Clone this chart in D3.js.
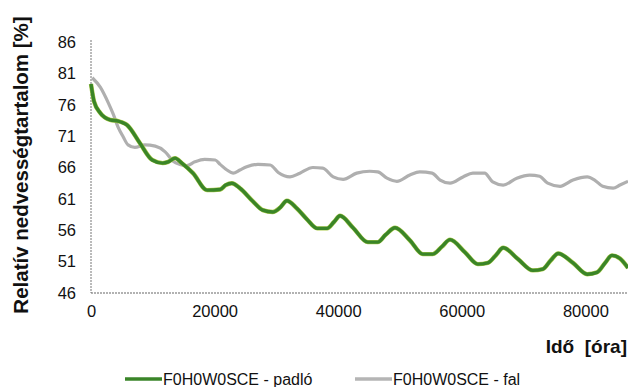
<!DOCTYPE html>
<html><head><meta charset="utf-8">
<script src="https://cdn.jsdelivr.net/npm/d3@7"></script>
<style>body{margin:0;background:#fff}svg{display:block}text{font-family:"Liberation Sans",Arial,sans-serif}</style>
</head><body>
<svg id="c" width="628" height="387"></svg>
<script>
const yTicks = [46, 51, 56, 61, 66, 71, 76, 81, 86];
const xTicks = [0, 20000, 40000, 60000, 80000];
const seriesNames = ["F0H0W0SCE - padló", "F0H0W0SCE - fal"];
const padloHours = [0,500,1500,3100,4400,5000,5800,7900,9900,11600,12500,13600,14700,16500,18800,20900,21800,22800,24100,26200,27800,29400,30600,31700,33300,34900,36600,38200,39300,40300,42400,44800,46400,47700,49200,51600,53700,55300,56800,58100,60500,62600,64200,65500,66700,69100,71500,73100,74400,75600,78000,80300,81900,83200,84300,85600,86900];
const padloValues = [79.3,76.5,74.7,73.6,73.4,73.2,72.8,69.9,67.2,66.7,66.9,67.5,66.7,65.1,62.4,62.5,63.2,63.5,62.7,60.6,59.2,58.9,59.6,60.7,59.5,57.8,56.3,56.3,57.3,58.3,56.4,54.1,54.1,55.3,56.4,54.4,52.2,52.2,53.4,54.5,52.5,50.6,50.8,52.0,53.2,51.4,49.6,49.8,51.2,52.3,50.8,49.0,49.3,50.8,52.0,51.5,50.0];
const falHours = [200,1500,2800,3600,4400,5200,6000,7100,8700,10400,12000,13300,14400,15500,16800,18400,20100,20900,22000,23000,24100,25200,27000,29000,30300,32200,33800,35900,37500,39200,40800,43000,45100,46400,47900,49500,51600,53200,55200,56500,58100,60200,61800,63700,65000,66700,68900,71000,72600,73900,75900,78000,80300,81500,82800,84500,85600,86900];
const falValues = [80.3,78.8,76.3,74.5,72.4,70.9,69.6,69.2,69.6,69.4,68.5,67.0,66.5,66.3,66.9,67.3,67.2,66.5,65.6,65.1,65.6,66.1,66.5,66.4,65.2,64.5,65.1,66.0,65.9,64.5,64.1,65.1,65.4,65.3,64.3,63.8,64.8,65.3,65.1,64.0,63.5,64.5,65.1,65.1,63.7,63.2,64.3,64.8,64.6,63.5,63.0,64.0,64.5,64.0,63.0,62.7,63.2,63.8];

const svg = d3.select("#c");
const x = d3.scaleLinear().domain([0, 86900]).range([91, 628]);
const y = d3.scaleLinear().domain([46, 86]).range([293, 42]);

// axes
const yAxis = svg.append("g").attr("transform", "translate(91,0)")
  .call(d3.axisLeft(y).tickValues(yTicks).tickSize(0).tickPadding(15).tickFormat(d3.format("d")));
yAxis.select(".domain").remove();
yAxis.selectAll("text").attr("font-size", 16.5).attr("fill", "#111");
const xAxis = svg.append("g").attr("transform", "translate(0,293)")
  .call(d3.axisBottom(x).tickValues(xTicks).tickSize(0).tickPadding(12).tickFormat(d3.format("d")));
xAxis.select(".domain").remove();
xAxis.selectAll("text").attr("font-size", 16.5).attr("fill", "#111");

svg.append("line").attr("x1", 91).attr("x2", 91).attr("y1", 40).attr("y2", 293)
  .attr("stroke", "#777").attr("stroke-width", 1).attr("stroke-dasharray", "2,1");
svg.append("line").attr("x1", 91).attr("x2", 628).attr("y1", 293).attr("y2", 293)
  .attr("stroke", "#666").attr("stroke-width", 1.2).attr("stroke-dasharray", "2,1");

const line = d3.line().x(d => x(d[0])).y(d => y(d[1])).curve(d3.curveMonotoneX);
const fal = falHours.map((h, i) => [h, falValues[i]]);
const padlo = padloHours.map((h, i) => [h, padloValues[i]]);

svg.append("path").datum(fal).attr("d", line).attr("fill", "none")
  .attr("stroke", "#afafaf").attr("stroke-width", 3.2).attr("stroke-linejoin", "round");
svg.append("path").datum(padlo).attr("d", line).attr("fill", "none")
  .attr("stroke", "#a9c94a").attr("stroke-width", 4.4).attr("stroke-linejoin", "round");
svg.append("path").datum(padlo).attr("d", line).attr("fill", "none")
  .attr("stroke", "#3a8528").attr("stroke-width", 3.4).attr("stroke-linejoin", "round");

// titles
svg.append("text").attr("transform", "translate(28,165) rotate(-90)")
  .attr("text-anchor", "middle").attr("font-size", 20.5).attr("font-weight", "bold").attr("fill", "#111")
  .text("Relatív nedvességtartalom [%]");
svg.append("text").attr("x", 627).attr("y", 353).attr("text-anchor", "end")
  .attr("font-size", 19).attr("font-weight", "bold").attr("fill", "#111")
  .attr("xml:space", "preserve").style("white-space", "pre").text("Idő  [óra]");

// legend
const lg = svg.append("g");
const legendColors = ["#3a8528", "#b5b5b5"];
const legendX = [125, 355];
seriesNames.forEach((n, i) => {
  lg.append("line").attr("x1", legendX[i]).attr("x2", legendX[i] + 37).attr("y1", 379).attr("y2", 379)
    .attr("stroke", legendColors[i]).attr("stroke-width", 3.5);
  lg.append("text").attr("x", legendX[i] + 38).attr("y", 385).attr("font-size", 16).attr("fill", "#111").text(n);
});
</script>
</body></html>
